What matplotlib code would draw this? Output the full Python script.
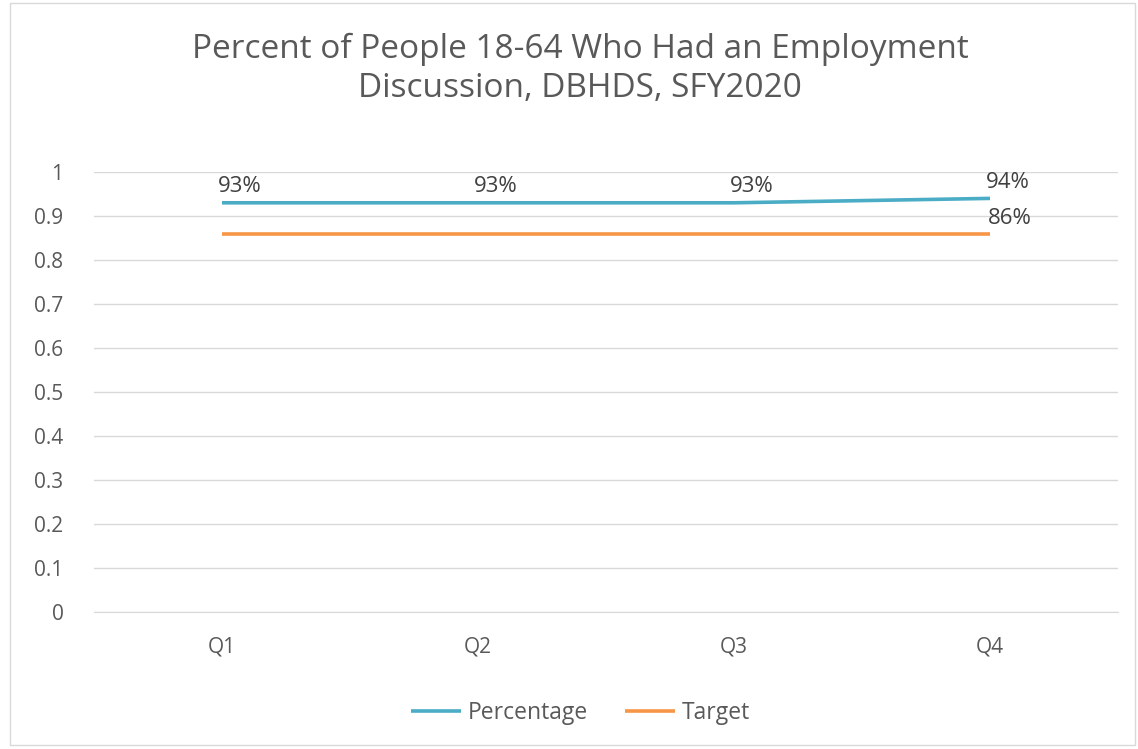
import matplotlib.pyplot as plt
from matplotlib.patches import Rectangle

quarters = ["Q1", "Q2", "Q3", "Q4"]
percentage = [0.93, 0.93, 0.93, 0.94]
target = [0.86, 0.86, 0.86, 0.86]
pct_labels = ["93%", "93%", "93%", "94%"]
target_label = "86%"

plt.rcParams['font.family'] = ['Open Sans', 'DejaVu Sans']

fig = plt.figure(figsize=(11.38, 7.49), dpi=100)
ax = fig.add_axes([94 / 1138, 1 - 612 / 749, (1118 - 94) / 1138, (612 - 172) / 749])

x = range(len(quarters))
ax.plot(x, percentage, color='#4BACC6', lw=2.6, label='Percentage', solid_capstyle='butt')
ax.plot(x, target, color='#F79646', lw=2.6, label='Target', solid_capstyle='butt')

# data labels, placed a little right of and above each point (Excel style)
for i, (v, s) in enumerate(zip(percentage, pct_labels)):
    ax.annotate(s, (i, v), xytext=(13, 4), textcoords='offset points',
                ha='center', va='bottom', fontsize=16, color='#404040')
ax.annotate(target_label, (3, target[3]), xytext=(14, 3), textcoords='offset points',
            ha='center', va='bottom', fontsize=16, color='#404040')

ax.set_xlim(-0.5, 3.5)
ax.set_ylim(0, 1)
ax.set_yticks([i / 10 for i in range(11)])
ax.set_yticklabels(["0", "0.1", "0.2", "0.3", "0.4", "0.5", "0.6", "0.7", "0.8", "0.9", "1"])
ax.set_xticks(list(x))
ax.set_xticklabels(quarters)
ax.tick_params(length=0, labelsize=15, labelcolor='#595959')
ax.tick_params(axis='y', pad=22)
ax.tick_params(axis='x', pad=18)
ax.grid(axis='y', color='#D9D9D9', lw=1)
ax.set_axisbelow(True)
for sp in ax.spines.values():
    sp.set_visible(False)
ax.spines['bottom'].set_visible(True)
ax.spines['bottom'].set_color('#D9D9D9')

fig.text(0.51, 0.908, "Percent of People 18-64 Who Had an Employment\nDiscussion, DBHDS, SFY2020",
         ha='center', va='center', fontsize=24, color='#595959', linespacing=1.25)

fig.legend(loc='center', bbox_to_anchor=(0.51, 0.048), ncol=2, frameon=False,
           fontsize=16.5, handlelength=2.2, handletextpad=0.3, columnspacing=1.6,
           labelcolor='#595959')

fig.patches.append(Rectangle((10 / 1138, 4 / 749), 1125 / 1138, 742 / 749,
                             transform=fig.transFigure, fill=False, edgecolor='#D9D9D9', lw=1))

fig.savefig('out.png', dpi=100)
